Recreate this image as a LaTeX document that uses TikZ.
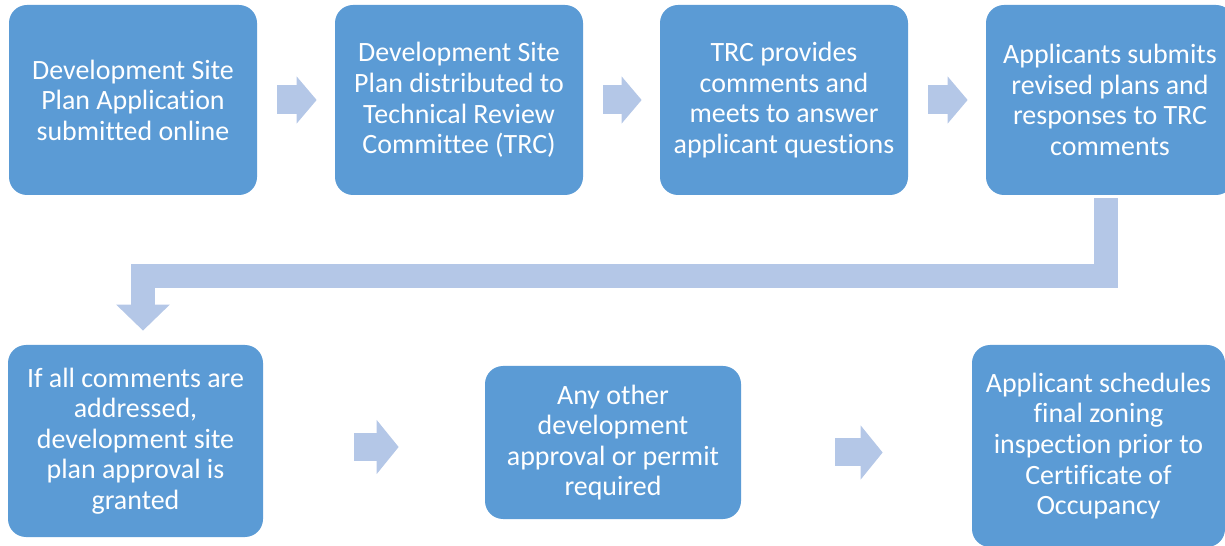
\documentclass[tikz,border=0pt]{standalone}
\usepackage{fontspec}
\setmainfont{Carlito}[RawFeature={-liga;-clig;-calt;-dlig}]
\usepackage{tikz}
\usetikzlibrary{arrows.meta}
\definecolor{boxblue}{RGB}{91,155,213}
\definecolor{arrowblue}{RGB}{180,199,231}

\begin{document}
\begin{tikzpicture}[scale = 1,
            stage/.style = {rectangle, rounded corners=0.36cm, fill=boxblue, text=white, align=center, inner sep=0pt, font=\fontsize{15.9}{17.4}\selectfont},
            flow/.style = {draw=arrowblue, line width=0.58cm, -{Triangle[length=0.4cm, width=0.92cm]}},
            flowlow/.style = {draw=arrowblue, line width=0.56cm, -{Triangle[length=0.44cm, width=1.06cm]}},
            bent/.style = {draw=arrowblue, line width=0.48cm, line join=miter, -{Triangle[length=0.52cm, width=1.04cm]}}]
            \useasboundingbox (0, 0) rectangle (24.5, -10.92);
            \clip (0, 0) rectangle (24.5, -10.92);
            % top row
            \node[stage, minimum width=4.96cm, minimum height=3.8cm] (b1) at (2.66, -2.0) {Development Site\\Plan Application\\submitted online};
            \node[stage, minimum width=4.96cm, minimum height=3.8cm] (b2) at (9.18, -2.0) {Development Site\\Plan distributed to\\Technical Review\\Committee (TRC)};
            \node[stage, minimum width=4.96cm, minimum height=3.8cm] (b3) at (15.68, -2.0) {TRC provides\\comments and\\meets to answer\\applicant questions};
            \node[stage, minimum width=4.96cm, minimum height=3.8cm] (b4) at (22.2, -2.0) {Applicants submits\\revised plans and\\responses to TRC\\comments};
            \draw[flow, shorten <=0.4cm, shorten >=0.36cm] (b1.east) -- (b2.west);
            \draw[flow, shorten <=0.4cm, shorten >=0.36cm] (b2.east) -- (b3.west);
            \draw[flow, shorten <=0.4cm, shorten >=0.36cm] (b3.east) -- (b4.west);
            % bottom row
            \node[stage, minimum width=5.1cm, minimum height=3.84cm] (b5) at (2.71, -8.82) {If all comments are\\addressed,\\development site\\plan approval is\\granted};
            \node[stage, minimum width=5.12cm, minimum height=3.06cm] (b6) at (12.26, -8.85) {Any other\\development\\approval or permit\\required};
            \node[stage, minimum width=5.06cm, minimum height=4.04cm] (b7) at (21.97, -8.92) {Applicant schedules\\final zoning\\inspection prior to\\Certificate of\\Occupancy};
            \coordinate (r1s) at ([yshift=-0.12cm]b5.east);
            \coordinate (r1e) at (r1s -| b6.west);
            \draw[flowlow, shorten <=1.82cm, shorten >=1.72cm] (r1s) -- (r1e);
            \coordinate (r2s) at ([yshift=-0.2cm]b6.east);
            \coordinate (r2e) at (r2s -| b7.west);
            \draw[flowlow, shorten <=1.88cm, shorten >=1.78cm] (r2s) -- (r2e);
            % back to the second row
            \coordinate (bs) at ([xshift=-0.09cm, yshift=-0.06cm]b4.south);
            \coordinate (bt) at ([xshift=0.15cm, yshift=0.28cm]b5.north);
            \draw[bent] (bs) -- ++(0, -1.55) -| (bt);
        \end{tikzpicture}
\end{document}
